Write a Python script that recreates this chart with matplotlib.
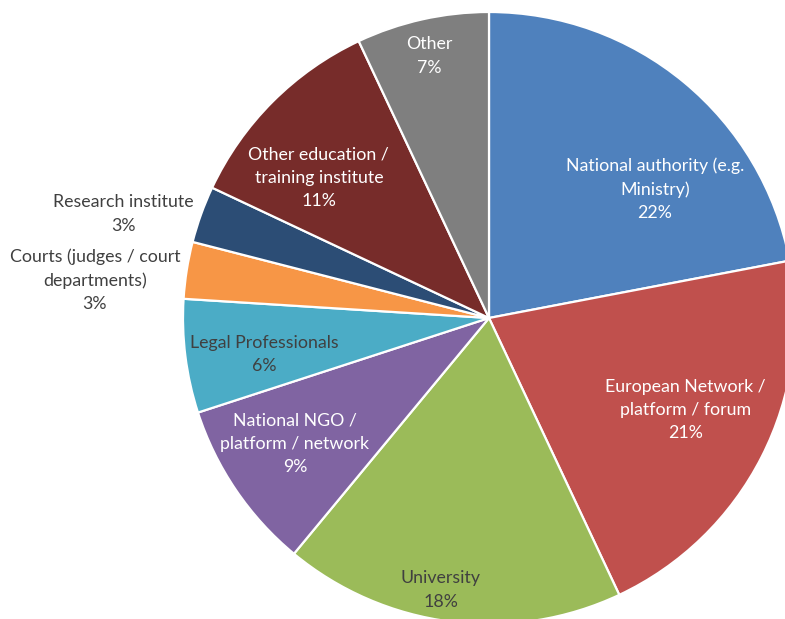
import matplotlib.pyplot as plt

# Share of respondents by type of organisation
categories = [
    'National authority (e.g.\nMinistry)',
    'European Network /\nplatform / forum',
    'University',
    'National NGO /\nplatform / network',
    'Legal Professionals',
    'Courts (judges / court\ndepartments)',
    'Research institute',
    'Other education /\ntraining institute',
    'Other',
]
shares = [22, 21, 18, 9, 6, 3, 3, 11, 7]
colors = ['#4F81BD', '#C0504D', '#9BBB59', '#8064A2', '#4BACC6',
          '#F79646', '#2C4D75', '#772C2A', '#7F7F7F']
text_colors = ['white', 'white', '#404040', 'white', '#404040',
               '#404040', '#404040', 'white', 'white']
# label centres, in units of the pie radius
label_pos = [(0.542, 0.422), (0.641, -0.301), (-0.157, -0.889),
             (-0.634, -0.412), (-0.735, -0.118), (-1.288, 0.124),
             (-1.196, 0.340), (-0.556, 0.458), (-0.196, 0.856)]

plt.rcParams['font.family'] = ['Lato', 'DejaVu Sans']

fig = plt.figure(figsize=(7.85, 6.19), dpi=100)
ax = fig.add_axes([0, 0, 1, 1])
ax.pie(shares, colors=colors, startangle=90, counterclock=False,
       radius=1.0, wedgeprops=dict(edgecolor='white', linewidth=1.6))

for name, val, (x, y), tc in zip(categories, shares, label_pos, text_colors):
    ax.text(x, y, f'{name}\n{val}%', ha='center', va='center',
            color=tc, fontsize=12.8, linespacing=1.55)

# pie radius = 306 px, centre at (489, 318) from the top-left corner
r = 306
ax.set_aspect('auto')
ax.set_xlim(-489 / r, (785 - 489) / r)
ax.set_ylim(-(619 - 318) / r, 318 / r)
ax.axis('off')

fig.savefig('out.png', dpi=100)
